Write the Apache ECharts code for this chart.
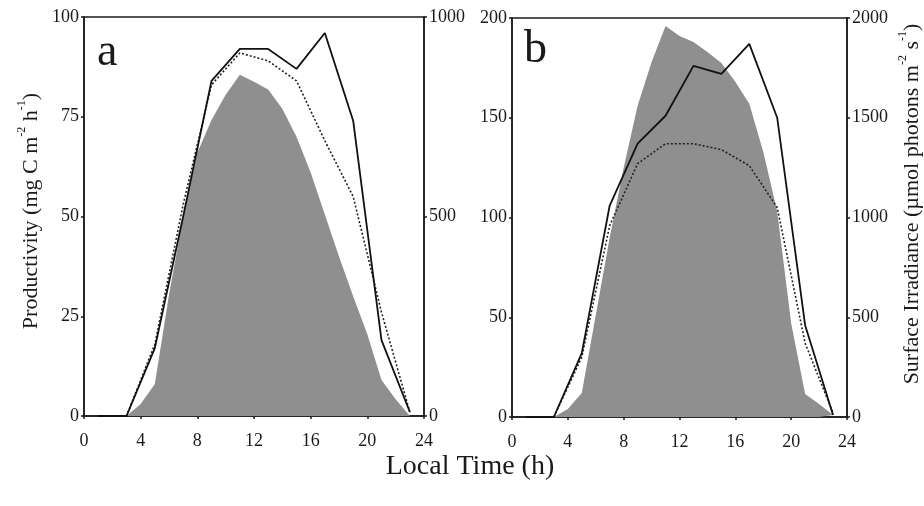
<!DOCTYPE html>
<html>
<head>
<meta charset="utf-8">
<script src="https://cdn.jsdelivr.net/npm/echarts@6/dist/echarts.min.js"></script>
<style>
  html, body { margin: 0; padding: 0; background: #fff; }
  #main { width: 924px; height: 506px; }
</style>
</head>
<body>
<div id="main"></div>
<script>
// hours of the productivity estimates
const prodHours = [1, 3, 5, 7, 9, 11, 13, 15, 17, 19, 21, 23];
// panel a productivity (mg C m-2 h-1)
const prodA_solid = [0, 0, 17, 50, 84, 92, 92, 87, 96, 74, 19, 1];
const prodA_dotted = [0, 0, 18, 53, 83, 91, 89, 84, 69, 55, 26, 1];
// panel b productivity
const prodB_solid = [0, 0, 32, 106, 137, 151, 176, 172, 187, 150, 46, 1];
const prodB_dotted = [0, 0, 30, 96, 127, 137, 137, 134, 126, 105, 37, 2];

// surface irradiance (umol photons m-2 s-1), hourly
const irrHours = [3, 4, 5, 6, 7, 8, 9, 10, 11, 12, 13, 14, 15, 16, 17, 18, 19, 20, 21, 22, 23];
const irrA = [0, 30, 80, 304, 500, 660, 742, 805, 855, 838, 818, 770, 700, 610, 505, 400, 300, 205, 90, 42, 0];
const irrB = [0, 40, 120, 510, 900, 1250, 1560, 1780, 1960, 1910, 1880, 1830, 1775, 1680, 1570, 1330, 1030, 470, 115, 65, 10];

// tick labels
const xTicks = [0, 4, 8, 12, 16, 20, 24];

const FONT = "Liberation Serif";
const INK = "#1a1a1a";
const GRAY = "#8f8f8f";

function pairs(xs, ys) {
  return xs.map((x, i) => [x, ys[i]]);
}

const chart = echarts.init(document.getElementById("main"));

function xAxisCfg(gridIndex) {
  return {
    gridIndex: gridIndex,
    type: "value",
    min: 0,
    max: 24,
    interval: 4,
    axisLine: { lineStyle: { color: INK, width: 1.5 } },
    axisTick: { length: 3, lineStyle: { color: INK, width: 1.5 } },
    axisLabel: {
      color: INK, fontFamily: FONT, fontSize: 18, margin: 16,
      customValues: xTicks
    },
    splitLine: { show: false }
  };
}

function yAxisCfg(gridIndex, pos, max, interval) {
  return {
    gridIndex: gridIndex,
    type: "value",
    position: pos,
    min: 0,
    max: max,
    interval: interval,
    axisLine: { show: true, lineStyle: { color: INK, width: 1.5 } },
    axisTick: { show: true, length: 3, lineStyle: { color: INK, width: 1.5 } },
    axisLabel: {
      color: INK, fontFamily: FONT, fontSize: 18, margin: 5,
      formatter: (v) => String(v)
    },
    splitLine: { show: false }
  };
}

// rich text for the superscripts in the axis titles
const titleRich = {
  n: { fontFamily: FONT, fontSize: 22, fill: INK, lineHeight: 26, verticalAlign: "bottom" },
  s: { fontFamily: FONT, fontSize: 12, fill: INK, lineHeight: 26, verticalAlign: "top" }
};

const option = {
  animation: false,
  backgroundColor: "#fff",
  grid: [
    { left: 84, top: 17, width: 340, height: 399, show: true, borderColor: INK, borderWidth: 1.5, backgroundColor: "transparent" },
    { left: 512, top: 18, width: 335, height: 399, show: true, borderColor: INK, borderWidth: 1.5, backgroundColor: "transparent" }
  ],
  xAxis: [xAxisCfg(0), xAxisCfg(1)],
  yAxis: [
    yAxisCfg(0, "left", 100, 25),
    yAxisCfg(0, "right", 1000, 500),
    yAxisCfg(1, "left", 200, 50),
    yAxisCfg(1, "right", 2000, 500)
  ],
  series: [
    {
      name: "Irradiance a", type: "line", xAxisIndex: 0, yAxisIndex: 1,
      data: pairs(irrHours, irrA), symbol: "none",
      lineStyle: { width: 0 }, areaStyle: { color: GRAY, opacity: 1 }, z: 1
    },
    {
      name: "Irradiance b", type: "line", xAxisIndex: 1, yAxisIndex: 3,
      data: pairs(irrHours, irrB), symbol: "none",
      lineStyle: { width: 0 }, areaStyle: { color: GRAY, opacity: 1 }, z: 1
    },
    {
      name: "a dotted", type: "line", xAxisIndex: 0, yAxisIndex: 0,
      data: pairs(prodHours, prodA_dotted), symbol: "none",
      lineStyle: { color: "#222", width: 1.6, type: [2, 2] }, z: 3
    },
    {
      name: "a solid", type: "line", xAxisIndex: 0, yAxisIndex: 0,
      data: pairs(prodHours, prodA_solid), symbol: "none",
      lineStyle: { color: "#111", width: 1.8 }, z: 4
    },
    {
      name: "b dotted", type: "line", xAxisIndex: 1, yAxisIndex: 2,
      data: pairs(prodHours, prodB_dotted), symbol: "none",
      lineStyle: { color: "#222", width: 1.6, type: [2, 2] }, z: 3
    },
    {
      name: "b solid", type: "line", xAxisIndex: 1, yAxisIndex: 2,
      data: pairs(prodHours, prodB_solid), symbol: "none",
      lineStyle: { color: "#111", width: 1.8 }, z: 4
    }
  ],
  graphic: [
    { type: "text", left: 97, top: 30, style: { text: "a", fontFamily: FONT, fontSize: 46, fill: INK } },
    { type: "text", left: 524, top: 27, style: { text: "b", fontFamily: FONT, fontSize: 46, fill: INK } },
    {
      type: "text", x: 470, y: 467,
      style: { text: "Local Time (h)", fontFamily: FONT, fontSize: 28, fill: INK, align: "center", verticalAlign: "middle" }
    },
    {
      type: "text", x: 29, y: 211, rotation: Math.PI / 2,
      style: {
        text: "{n|Productivity (mg C m}{s|-2}{n| h}{s|-1}{n|)}",
        rich: titleRich, align: "center", verticalAlign: "middle"
      }
    },
    {
      type: "text", x: 910, y: 204, rotation: Math.PI / 2,
      style: {
        text: "{n|Surface Irradiance (\u00b5mol photons m}{s|-2}{n| s}{s|-1}{n|)}",
        rich: titleRich, align: "center", verticalAlign: "middle"
      }
    }
  ]
};

chart.setOption(option);
</script>
</body>
</html>
